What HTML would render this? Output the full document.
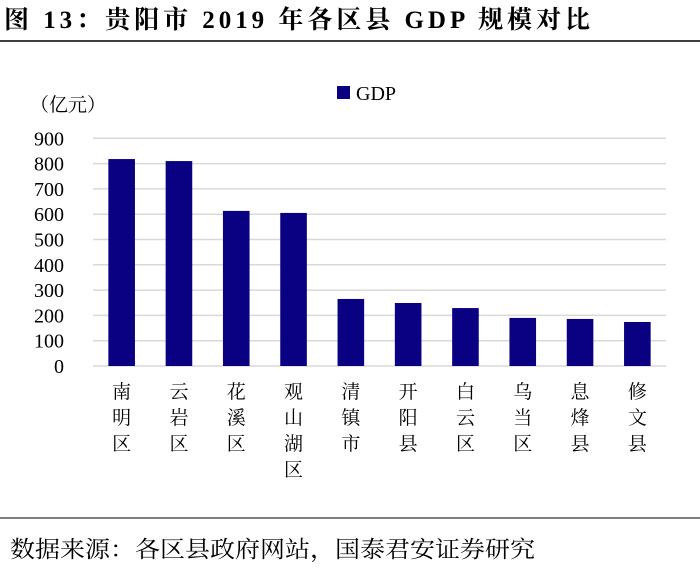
<!DOCTYPE html>
<html><head><meta charset="utf-8"><style>
body{margin:0;background:#fff;width:700px;height:571px;overflow:hidden;font-family:"Liberation Serif","Noto Serif CJK SC",serif}
</style></head><body>
<svg width="700" height="571" xmlns="http://www.w3.org/2000/svg">
<text x="4" y="28" font-size="25" font-weight="bold" textLength="586" lengthAdjust="spacing" font-family="Liberation Serif, Noto Serif CJK SC, serif">图 13：贵阳市 2019 年各区县 GDP 规模对比</text>
<line x1="0" y1="41" x2="700" y2="41" stroke="#000" stroke-width="1.5"/>
<text x="30" y="111" font-size="19">（亿元）</text>
<rect x="337" y="86" width="13" height="13" fill="#0a0082"/>
<text x="356" y="100" font-size="20">GDP</text>
<g id="grid"></g><g id="bars"></g><g id="labels"></g>
<line x1="0" y1="518" x2="700" y2="518" stroke="#000" stroke-width="1"/>
<text x="10" y="557" font-size="23" textLength="525" lengthAdjust="spacingAndGlyphs">数据来源：各区县政府网站，国泰君安证券研究</text>
</svg>
<script>
const categories=["南明区","云岩区","花溪区","观山湖区","清镇市","开阳县","白云区","乌当区","息烽县","修文县"];
const gdpValues=[818,810,613,605,265,249,229,190,186,174];
const yTicks=[0,100,200,300,400,500,600,700,800,900];
const NS="http://www.w3.org/2000/svg";
const x0=93,x1=666,y0=366,yTop=138.3,yMax=900;
const y=v=>y0-(v/yMax)*(y0-yTop);
const slot=(x1-x0)/categories.length;
const xc=i=>x0+slot*(i+0.5);
function mk(t,a,p){const e=document.createElementNS(NS,t);for(const k in a)e.setAttribute(k,a[k]);p.appendChild(e);return e;}
const g=document.getElementById('grid'),b=document.getElementById('bars'),l=document.getElementById('labels');
yTicks.forEach(v=>{
 const ln=mk('line',{x1:x0,x2:x1,y1:y(v),y2:y(v),stroke:'#d9d9d9','stroke-width':1.5},g);
 
 
 const t=mk('text',{x:64,y:y(v)+7,'font-size':20,'text-anchor':'end'},g);
 t.textContent=v;
 
 
});
gdpValues.forEach((v,i)=>{
 const r=mk('rect',{x:xc(i)-13.3,y:y(v),width:26.6,height:y0-y(v),fill:'#0a0082'},b);
 
 
 const t=mk('text',{'font-size':19,'text-anchor':'middle'},l);
 
 
 [...categories[i]].forEach((ch,j)=>{const s=mk('tspan',{x:xc(i),y:398+j*26},t);s.textContent=ch;});
});
</script>
</body></html>
